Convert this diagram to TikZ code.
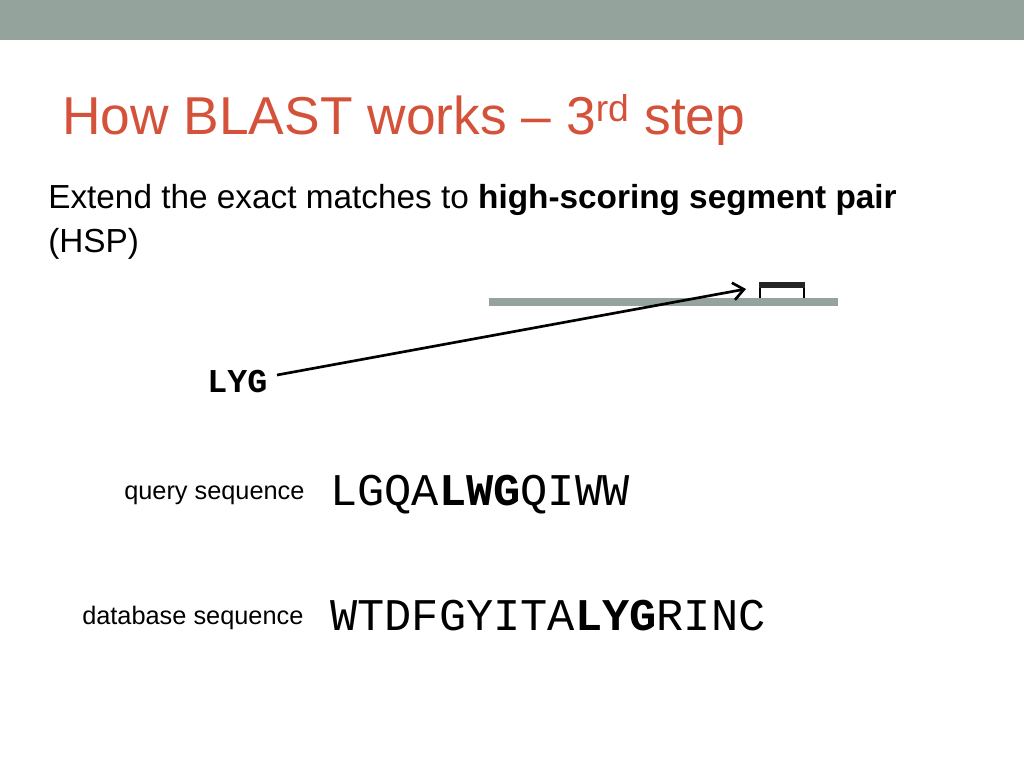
\documentclass[tikz,border=0pt]{standalone}
\usepackage{fontspec}
\setmainfont{Liberation Sans}
\newfontfamily\cour{Liberation Mono}
\usetikzlibrary{arrows.meta}
\definecolor{topbar}{RGB}{148,163,155}
\definecolor{titlered}{RGB}{212,82,58}
\begin{document}
\begin{tikzpicture}[x=0.75pt,y=-0.75pt,
  lbl/.style={inner sep=0,anchor=base west}]
\useasboundingbox (0,0) rectangle (1024,768);
\fill[topbar] (0,0) rectangle (1024,40);
\node[lbl,text=titlered,font=\fontsize{40}{44}\selectfont] (title) at (62,134) {How BLAST works -- 3\textsuperscript{rd} step};
\node[lbl,font=\fontsize{25}{29}\selectfont] (l1) at (48,208) {Extend the exact matches to \textbf{high-scoring segment pair}};
\node[lbl,font=\fontsize{25}{29}\selectfont] (l2) at (48,252) {(HSP)};
\fill[topbar] (489,298) rectangle (838,306);
\coordinate (arrEnd) at (746,289);
\draw[line width=1.4pt] (760,298) -- (760,284) -- (804,284) -- (804,298);
\fill[black!85] (759,282) rectangle (805,288);
\node[lbl,font=\cour\bfseries\fontsize{25}{28}\selectfont] (lyg) at (207,392) {LYG};
\draw[line width=2pt,-{Straight Barb[length=8pt,width=13pt,line width=2pt]}] (277,375) -- (arrEnd);
\node[lbl,font=\fontsize{19}{22}\selectfont] (q) at (124,499) {query sequence};
\node[lbl,font=\cour\fontsize{34}{38}\selectfont] (qs) at (330,505) {LGQA\textbf{LWG}QIWW};
\node[lbl,font=\fontsize{19}{22}\selectfont] (d) at (82,624) {database sequence};
\node[lbl,font=\cour\fontsize{34}{38}\selectfont] (ds) at (330,630) {WTDFGYITA\textbf{LYG}RINC};
\end{tikzpicture}
\end{document}
